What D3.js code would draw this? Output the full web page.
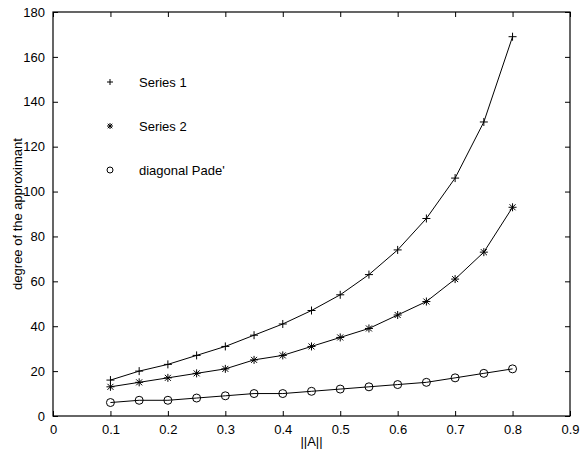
<!DOCTYPE html>
<html><head><meta charset="utf-8">
<script src="https://cdn.jsdelivr.net/npm/d3@7"></script>
<style>body{margin:0;background:#fff}svg{display:block}text{font-family:"Liberation Sans",Arial,sans-serif}</style>
</head><body>
<script>
const xValues = [0.1,0.15,0.2,0.25,0.3,0.35,0.4,0.45,0.5,0.55,0.6,0.65,0.7,0.75,0.8];
const series1 = [16,20,23,27,31,36,41,47,54,63,74,88,106,131,169];
const series2 = [13,15,17,19,21,25,27,31,35,39,45,51,61,73,93];
const pade = [6,7,7,8,9,10,10,11,12,13,14,15,17,19,21];
const seriesNames = ["Series 1","Series 2","diagonal Pade'"];
const seriesMarkers = ["plus","star","circle"];
const xTicks = [0,0.1,0.2,0.3,0.4,0.5,0.6,0.7,0.8,0.9];
const yTicks = [0,20,40,60,80,100,120,140,160,180];

const W=580,H=450;
const L=53,R=570,T=12,B=416;
const svg=d3.select("body").append("svg").attr("width",W).attr("height",H);
const x=d3.scaleLinear().domain([0,0.9]).range([L,R]);
const y=d3.scaleLinear().domain([0,180]).range([B,T]);

const fs=13;
svg.append("g").attr("transform",`translate(0,${B})`)
 .call(d3.axisBottom(x).tickValues(xTicks).tickFormat(d3.format("")).tickSize(-5).tickPadding(9))
 .call(g=>{g.select(".domain").remove();g.selectAll("text").attr("font-size",fs).attr("fill","#000");});
svg.append("g").attr("transform",`translate(${L},0)`)
 .call(d3.axisLeft(y).tickValues(yTicks).tickSize(-5).tickPadding(8))
 .call(g=>{g.select(".domain").remove();g.selectAll("text").attr("font-size",fs).attr("fill","#000");});
svg.append("g").attr("transform",`translate(0,${T})`)
 .call(d3.axisTop(x).tickValues(xTicks).tickFormat("").tickSize(-5))
 .call(g=>g.select(".domain").remove());
svg.append("g").attr("transform",`translate(${R},0)`)
 .call(d3.axisRight(y).tickValues(yTicks).tickFormat("").tickSize(-5))
 .call(g=>g.select(".domain").remove());
svg.append("rect").attr("x",L).attr("y",T).attr("width",R-L).attr("height",B-T)
 .attr("fill","none").attr("stroke","#000").attr("stroke-width",1.2);

const line=d3.line().x((d,i)=>x(xValues[i])).y(d=>y(d)).curve(d3.curveLinear);
const allSeries=[series1,series2,pade];

function marker(g,type,cx,cy,s){
  if(type==="plus"){
    g.append("path").attr("d",`M${cx-s},${cy}H${cx+s}M${cx},${cy-s}V${cy+s}`).attr("stroke","#000").attr("stroke-width",1).attr("fill","none");
  } else if(type==="star"){
    const d=s*0.75;
    g.append("path").attr("d",`M${cx-s},${cy}H${cx+s}M${cx},${cy-s}V${cy+s}M${cx-d},${cy-d}L${cx+d},${cy+d}M${cx-d},${cy+d}L${cx+d},${cy-d}`).attr("stroke","#000").attr("stroke-width",1).attr("fill","none");
  } else {
    g.append("circle").attr("cx",cx).attr("cy",cy).attr("r",s).attr("stroke","#000").attr("stroke-width",1).attr("fill","none");
  }
}

allSeries.forEach((data,k)=>{
  svg.append("path").datum(data).attr("d",line).attr("fill","none").attr("stroke","#000").attr("stroke-width",1);
  const g=svg.append("g");
  data.forEach((v,i)=>marker(g,seriesMarkers[k],x(xValues[i]),y(v),4));
});

const legY=[82,126,170];
seriesNames.forEach((n,k)=>{
  const g=svg.append("g");
  marker(g,seriesMarkers[k],110,legY[k],3);
  svg.append("text").attr("x",139).attr("y",legY[k]).attr("dy","0.35em").attr("font-size",fs).text(n);
});

svg.append("text").attr("x",(L+R)/2).attr("y",446).attr("text-anchor","middle").attr("font-size",fs).text("||A||");
svg.append("text").attr("transform",`translate(17,${(T+B)/2}) rotate(-90)`).attr("text-anchor","middle").attr("font-size",fs).attr("dy","0.35em").text("degree of the approximant");
</script>
</body></html>
